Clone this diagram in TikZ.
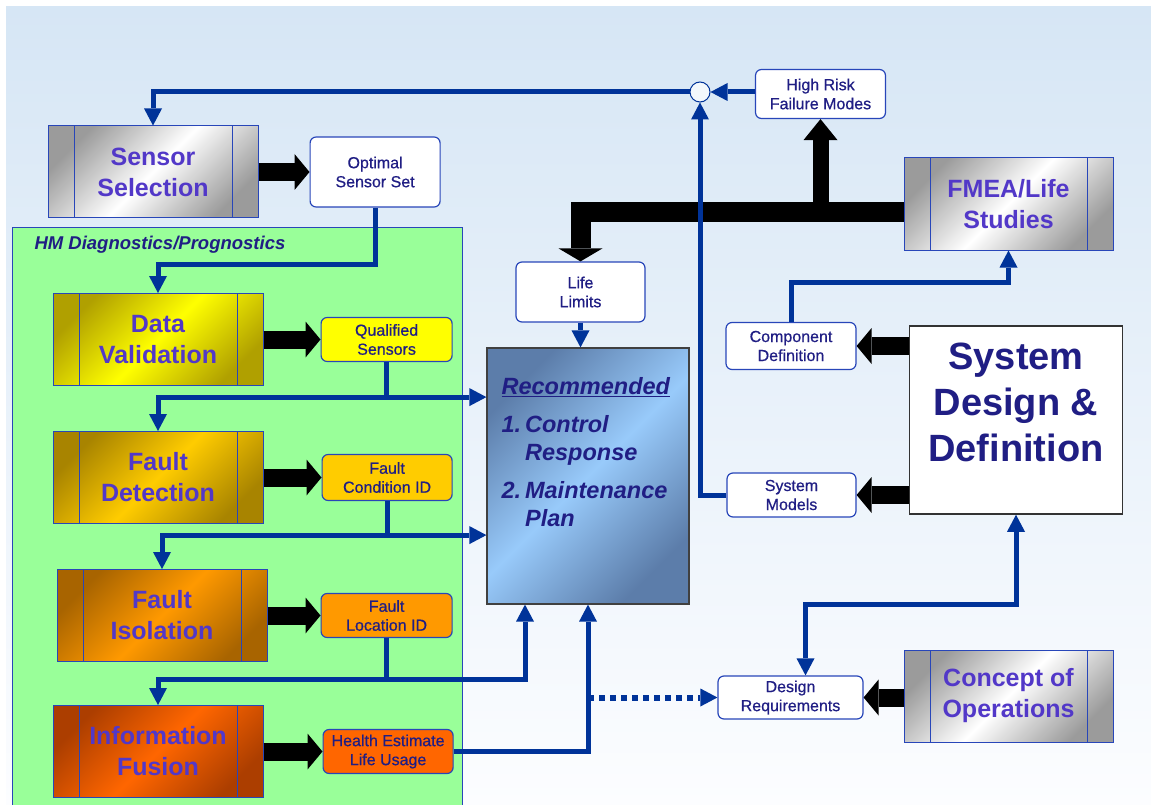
\documentclass[tikz,border=0pt]{standalone}
\usepackage{fontspec}
\setmainfont{Liberation Sans}
\newfontfamily\boxfont[FakeBold=0.6]{Liberation Sans}
\usetikzlibrary{positioning,arrows.meta}
\definecolor{bgTop}{RGB}{214,230,245}
\definecolor{bgBottom}{RGB}{252,253,255}
\definecolor{panelGreen}{RGB}{153,255,153}
\definecolor{boxBlue}{RGB}{40,70,185}
\definecolor{flowBlue}{RGB}{0,51,153}
\definecolor{stageText}{RGB}{82,56,200}
\definecolor{navyText}{RGB}{32,30,132}
\definecolor{greyDark}{RGB}{155,155,155}
\definecolor{yellowDark}{RGB}{176,160,0}
\definecolor{yellowLight}{RGB}{255,255,0}
\definecolor{goldDark}{RGB}{168,132,0}
\definecolor{goldLight}{RGB}{255,204,0}
\definecolor{orangeDark}{RGB}{168,100,0}
\definecolor{orangeLight}{RGB}{255,153,0}
\definecolor{redDark}{RGB}{172,62,0}
\definecolor{redLight}{RGB}{255,102,0}
\definecolor{recDark}{RGB}{92,125,170}
\definecolor{recLight}{RGB}{152,202,250}

\begin{document}
\begin{tikzpicture}[x=1pt,y=-1pt]
  \tikzstyle{stage} = [rectangle,draw=boxBlue,line width=1pt,minimum width=210pt,minimum height=92pt,align=center,text=stageText,font=\bfseries\fontsize{25}{31}\selectfont,
    path picture={\draw[boxBlue,line width=1pt] ([xshift=26pt]path picture bounding box.north west) -- ([xshift=26pt]path picture bounding box.south west)
      ([xshift=-26pt]path picture bounding box.north east) -- ([xshift=-26pt]path picture bounding box.south east);}]
  \tikzstyle{greystage} = [stage,top color=greyDark,bottom color=greyDark,middle color=white,shading angle=45]
  \tikzstyle{yellowstage} = [stage,top color=yellowDark,bottom color=yellowDark,middle color=yellowLight,shading angle=45]
  \tikzstyle{goldstage} = [stage,top color=goldDark,bottom color=goldDark,middle color=goldLight,shading angle=45]
  \tikzstyle{orangestage} = [stage,top color=orangeDark,bottom color=orangeDark,middle color=orangeLight,shading angle=45]
  \tikzstyle{redstage} = [stage,top color=redDark,bottom color=redDark,middle color=redLight,shading angle=45]
  \tikzstyle{info} = [rectangle,rounded corners=6pt,draw=boxBlue,line width=1.2pt,fill=white,minimum width=130pt,minimum height=44pt,inner sep=2pt,align=center,text=navyText,font=\boxfont\fontsize{16}{19}\selectfont]
  \tikzstyle{recbox} = [rectangle,draw=black!75,line width=1.2pt,minimum width=202pt,minimum height=256pt,top color=recDark,bottom color=recDark,middle color=recLight,shading angle=45]
  \tikzstyle{rectext} = [inner sep=0pt,align=left,text=navyText,font=\bfseries\itshape\fontsize{23.5}{28}\selectfont]
  \tikzstyle{sysbox} = [rectangle,draw=black!80,line width=1.5pt,fill=white,minimum width=213pt,minimum height=188pt,align=center,text=navyText,font=\bfseries\fontsize{38}{46}\selectfont]
  \tikzstyle{flow} = [flowBlue,line width=5pt]
  \tikzstyle{dottedflow} = [flowBlue,line width=6pt,dash pattern=on 6pt off 5pt]
  \tikzstyle{bigarrow} = [black,line width=18pt,-{Triangle[width=36pt,length=15pt,line width=0pt]}]
  \tikzset{>={Triangle[width=18pt,length=17pt,line width=0pt]}}

  \useasboundingbox (0,0) rectangle (1151,805);
  \shade[top color=bgTop,bottom color=bgBottom] (6,7) rectangle (1151,805);
  \draw[boxBlue,line width=1pt,fill=panelGreen] (12,228) rectangle (462,812);
  \node[anchor=west,text=navyText,font=\bfseries\itshape\fontsize{18.5}{22}\selectfont] (hmtitle) at (31,245) {HM Diagnostics/Prognostics};

  % left column
  \node[greystage] (sensor) at (153,172) {Sensor\\Selection};
  \node[info,minimum height=70pt,right=51pt of sensor] (optimal) {Optimal\\Sensor Set};
  \node[yellowstage] (dataval) at (158,339.5) {Data\\Validation};
  \node[info,fill=yellowLight,minimum width=131pt,right=57pt of dataval] (qualified) {Qualified\\Sensors};
  \node[goldstage] (faultdet) at (158,477.5) {Fault\\Detection};
  \node[info,fill=goldLight,minimum height=46pt,right=58pt of faultdet] (faultcond) {Fault\\Condition ID};
  \node[orangestage] (faultiso) at (162,615.5) {Fault\\Isolation};
  \node[info,fill=orangeLight,minimum width=131pt,right=53pt of faultiso] (faultloc) {Fault\\Location ID};
  \node[redstage] (fusion) at (158,751.5) {Information\\Fusion};
  \node[info,fill=redLight,right=59pt of fusion] (health) {Health Estimate\\Life Usage};

  % middle
  \node[recbox] (rec) at (588,476) {};
  \node[rectext,below right=30pt and 15pt of rec.north west] (recnotes) {\underline{Recommended}\\[10pt]
    1.\,Control\\ \phantom{1.\,}Response\\[10pt]
    2.\,Maintenance\\ \phantom{2.\,}Plan};
  \node[info,minimum width=129pt,minimum height=60pt] (lifelimits) at (580.5,292) {Life\\Limits};

  % right column
  \node[circle,draw=flowBlue,line width=1pt,fill=white!70!bgTop,minimum size=20pt,inner sep=0pt] (join) at (700,92) {};
  \node[info,minimum height=49pt] (highrisk) at (820.5,94) {High Risk\\Failure Modes};
  \node[greystage,minimum width=209pt] (fmea) at (1008.5,204) {FMEA/Life\\Studies};
  \node[info,minimum height=47pt] (compdef) at (791,346) {Component\\Definition};
  \node[sysbox] (sysdesign) at (1016,420) {System\\Design \&\\Definition\rule[-35pt]{0pt}{35pt}};
  \node[info,minimum width=129pt] (sysmodels) at (791.5,495) {System\\Models};
  \node[greystage,minimum width=209pt] (concept) at (1008.5,696) {Concept of\\Operations};
  \node[info,minimum width=145pt,minimum height=43pt] (designreq) at (790.5,697.5) {Design\\Requirements};

  % black feeds
  \draw[bigarrow] (sensor.east) -- (optimal.west);
  \draw[bigarrow] (dataval.east) -- (qualified.west);
  \draw[bigarrow] (faultdet.east) -- (faultcond.west);
  \draw[bigarrow] (faultiso.east) -- (faultloc.west);
  \draw[bigarrow] (fusion.east) -- (health.west);
  \draw[bigarrow] (sysdesign.west |- compdef) -- (compdef.east);
  \draw[bigarrow] (sysdesign.west |- sysmodels) -- (sysmodels.east);
  \draw[bigarrow] (concept.west |- designreq) -- (designreq.east);
  \coordinate[below=8pt of fmea.west] (fmeabar);
  \draw[bigarrow,line width=20pt,-{Triangle[width=44pt,length=13pt,line width=0pt]}] (fmeabar) -| (lifelimits.north);
  \draw[bigarrow,line width=16pt,-{Triangle[width=34pt,length=21pt,line width=0pt]}] (highrisk.south |- fmeabar) -- (highrisk.south);

  % blue flows
  \draw[flow,->] (highrisk.west |- join) -- (join.east);
  \draw[flow,->] (join.west) -| (sensor.north);
  \draw[flow,->] (sysmodels.west) -| (join.south);
  \draw[flow,->] (optimal.south) -- ++(0,57) -| (dataval.north);
  \coordinate[below=35pt of qualified.south] (qualsplit);
  \draw[flow,->] (qualified.south) -- (qualsplit) -| (faultdet.north);
  \draw[flow,->] (qualsplit) -- (qualsplit -| rec.west);
  \coordinate[below=34pt of faultcond.south] (condsplit);
  \draw[flow,->] (faultcond.south) -- (condsplit) -| (faultiso.north);
  \draw[flow,->] (condsplit) -- (condsplit -| rec.west);
  \coordinate[below=41pt of faultloc.south] (locsplit);
  \draw[flow,->] (faultloc.south) -- (locsplit) -| (fusion.north);
  \draw[flow,->] (locsplit) -| ([xshift=-63pt]rec.south);
  \draw[flow,->] (health.east) -| (rec.south);
  \draw[flow,->] (lifelimits.south) -- (lifelimits.south |- rec.north);
  \draw[dottedflow,->] (rec.south |- designreq.west) -- (designreq.west);
  \draw[flow,->] (compdef.north) -- ++(0,-39) -| (fmea.south);
  \draw[flow,<->] ([xshift=15pt]designreq.north) -- ++(0,-71) -| (sysdesign.south);
\end{tikzpicture}
\end{document}
